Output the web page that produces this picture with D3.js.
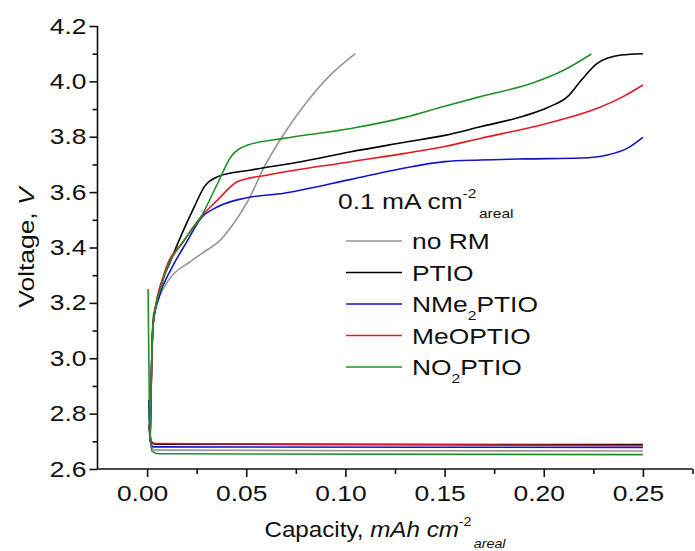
<!DOCTYPE html>
<html>
<head>
<meta charset="utf-8">
<script src="https://cdn.jsdelivr.net/npm/d3@7"></script>
<style>
  body { margin: 0; background: #fff; }
  svg text { font-family: "Liberation Sans", Arial, sans-serif; fill: #111; }
  .axis path, .axis line { stroke: #111; stroke-width: 1.6px; }
  .curve { fill: none; stroke-width: 1.6px; }
</style>
</head>
<body>
<div id="plot"></div>
<script>
// series names, same order as the legend
const seriesNames = ["no RM", "PTIO", "NMe2PTIO", "MeOPTIO", "NO2PTIO"];

// charge curves [capacity mAh cm-2, voltage V]
const chargeNoRM = [[0.0015, 2.70], [0.0022, 2.92], [0.003, 3.15], [0.0055, 3.21], [0.0106, 3.28], [0.022, 3.35],
  [0.030, 3.39], [0.036, 3.42], [0.044, 3.49], [0.051, 3.57], [0.059, 3.69], [0.069, 3.81], [0.081, 3.93],
  [0.092, 4.02], [0.105, 4.10]];
const chargePTIO = [[0.0015, 2.70], [0.0022, 2.95], [0.003, 3.12], [0.0054, 3.22], [0.0121, 3.355], [0.0238, 3.547],
  [0.0289, 3.62], [0.0356, 3.656], [0.0524, 3.68], [0.0776, 3.71], [0.1028, 3.746], [0.13, 3.78], [0.15, 3.805],
  [0.168, 3.836], [0.19, 3.875], [0.202, 3.906], [0.212, 3.945], [0.219, 4.005], [0.227, 4.065], [0.239, 4.095],
  [0.25, 4.10]];
const chargeNMe2PTIO = [[0.0015, 2.70], [0.0022, 2.95], [0.003, 3.12], [0.006, 3.22], [0.012, 3.32], [0.02, 3.42],
  [0.0272, 3.506], [0.0356, 3.547], [0.049, 3.578], [0.069, 3.596], [0.1028, 3.646], [0.125, 3.68], [0.15, 3.71],
  [0.168, 3.716], [0.19, 3.72], [0.219, 3.723], [0.232, 3.734], [0.242, 3.758], [0.25, 3.798]];
const chargeMeOPTIO = [[0.0015, 2.70], [0.0022, 2.95], [0.003, 3.12], [0.0087, 3.307], [0.0188, 3.427], [0.0272, 3.511],
  [0.0356, 3.572], [0.0457, 3.638], [0.0608, 3.662], [0.1028, 3.71], [0.13, 3.74], [0.15, 3.765], [0.168, 3.794],
  [0.202, 3.849], [0.227, 3.903], [0.24, 3.945], [0.25, 3.987]];
const chargeNO2PTIO = [[0.0015, 2.70], [0.0022, 2.95], [0.003, 3.12], [0.008, 3.28], [0.0188, 3.427], [0.0272, 3.511],
  [0.0356, 3.632], [0.0423, 3.728], [0.0508, 3.77], [0.069, 3.794], [0.1028, 3.83], [0.13, 3.87], [0.15, 3.91],
  [0.168, 3.945], [0.194, 3.993], [0.21, 4.04], [0.224, 4.099]];

// discharge curves
const dischargeNoRM = [[0.001, 2.75], [0.002, 2.68], [0.004, 2.668], [0.25, 2.665]];
const dischargePTIO = [[0.001, 2.76], [0.002, 2.70], [0.004, 2.69], [0.25, 2.688]];
const dischargeNMe2PTIO = [[0.0008, 2.85], [0.0015, 2.72], [0.003, 2.68], [0.25, 2.678]];
const dischargeMeOPTIO = [[0.001, 2.76], [0.002, 2.70], [0.004, 2.692], [0.25, 2.685]];
const dischargeNO2PTIO = [[0.0005, 3.25], [0.0012, 2.80], [0.0025, 2.665], [0.006, 2.655], [0.25, 2.652]];

const xMajorTicks = [0, 0.05, 0.10, 0.15, 0.20, 0.25];
const xMinorTicks = [0.025, 0.075, 0.125, 0.175, 0.225, 0.275];
const yMajorTicks = [2.6, 2.8, 3.0, 3.2, 3.4, 3.6, 3.8, 4.0, 4.2];
const yMinorTicks = [2.7, 2.9, 3.1, 3.3, 3.5, 3.7, 3.9, 4.1];

const colors = ["#969696", "#000000", "#1414c4", "#e01b24", "#21902a"];

let width = 695, height = 551;
let margin = { top: 26, right: 2.5, bottom: 82, left: 97.5 };
let stretch = 1.2; // the picture's lettering is wider than plain Arial

let svg = d3.select("#plot").append("svg").attr("width", width).attr("height", height);

let x = d3.scaleLinear().domain([-0.025, 0.275]).range([margin.left, width - margin.right]);
let y = d3.scaleLinear().domain([2.6, 4.2]).range([height - margin.bottom, margin.top]);

let line = d3.line().x(d => x(d[0])).y(d => y(d[1])).curve(d3.curveMonotoneX);

let discharge = [dischargeNoRM, dischargePTIO, dischargeNMe2PTIO, dischargeMeOPTIO, dischargeNO2PTIO];
let charge = [chargeNoRM, chargePTIO, chargeNMe2PTIO, chargeMeOPTIO, chargeNO2PTIO];

discharge.forEach((d, i) => {
  svg.append("path").attr("class", "curve").attr("d", line(d)).attr("stroke", colors[i]);
});
charge.forEach((d, i) => {
  svg.append("path").attr("class", "curve").attr("d", line(d)).attr("stroke", colors[i]);
});

// axes
let yAxis = svg.append("g").attr("class", "axis").attr("transform", "translate(" + margin.left + ",0)")
  .call(d3.axisLeft(y).tickValues(yMajorTicks).tickSize(8).tickPadding(3).tickFormat(d3.format(".1f")));
svg.append("g").attr("class", "axis").attr("transform", "translate(" + margin.left + ",0)")
  .call(d3.axisLeft(y).tickValues(yMinorTicks).tickSize(5).tickFormat("")).select(".domain").remove();

let xAxis = svg.append("g").attr("class", "axis").attr("transform", "translate(0," + y(2.6) + ")")
  .call(d3.axisBottom(x).tickValues(xMajorTicks).tickSize(8).tickPadding(8).tickFormat(d3.format(".2f")));
svg.append("g").attr("class", "axis").attr("transform", "translate(0," + y(2.6) + ")")
  .call(d3.axisBottom(x).tickValues(xMinorTicks).tickSize(5).tickFormat("")).select(".domain").remove();

yAxis.select(".domain").attr("d", "M0," + y(4.2) + "V" + y(2.6));
xAxis.select(".domain").attr("d", "M" + margin.left + ",0H" + (width - margin.right));

svg.selectAll(".axis text").style("font-size", "22px").attr("fill", "#111")
  .attr("transform", "scale(" + stretch + ",1)");
yAxis.selectAll(".tick text").attr("x", -11 / stretch);
xAxis.selectAll(".tick text").attr("dx", -5 / stretch);

// axis titles
let yTitle = svg.append("text").attr("transform", "translate(34," + y(3.4) + ") rotate(-90) scale(" + stretch + ",1)")
  .attr("text-anchor", "middle").style("font-size", "22px");
yTitle.append("tspan").text("Voltage, ");
yTitle.append("tspan").style("font-style", "italic").text("V");

let xTitle = svg.append("text").attr("transform", "translate(" + (x(0.125) - 10) + ",537) scale(1.1,1)")
  .attr("text-anchor", "middle").style("font-size", "22px");
xTitle.append("tspan").text("Capacity, ");
xTitle.append("tspan").style("font-style", "italic").text("mAh cm");
xTitle.append("tspan").attr("dy", -11).style("font-size", "13px").text("-2");
xTitle.append("tspan").attr("dy", 22).attr("dx", 2).style("font-size", "13px").style("font-style", "italic").text("areal");

// legend
let legend = svg.append("g").attr("transform", "translate(338,0)");
let lt = legend.append("text").attr("transform", "translate(0,209) scale(" + stretch + ",1)").style("font-size", "22px");
lt.append("tspan").text("0.1 mA cm");
lt.append("tspan").attr("dy", -11).style("font-size", "13px").text("-2");
lt.append("tspan").attr("dy", 20).attr("dx", 2).style("font-size", "13px").text("areal");

seriesNames.forEach((name, i) => {
  let cy = 241 + i * 31.5;
  legend.append("line").attr("x1", 8).attr("x2", 64).attr("y1", cy).attr("y2", cy)
    .attr("stroke", colors[i]).attr("stroke-width", 1.6);
  let t = legend.append("text").attr("transform", "translate(74," + (cy + 8) + ") scale(" + stretch + ",1)")
    .style("font-size", "22px");
  let m = name.match(/^(.*?)2(PTIO)$/);
  if (m) {
    t.append("tspan").text(m[1]);
    t.append("tspan").attr("dy", 8).style("font-size", "13px").text("2");
    t.append("tspan").attr("dy", -8).text(m[2]);
  } else {
    t.text(name);
  }
});
</script>
</body>
</html>
